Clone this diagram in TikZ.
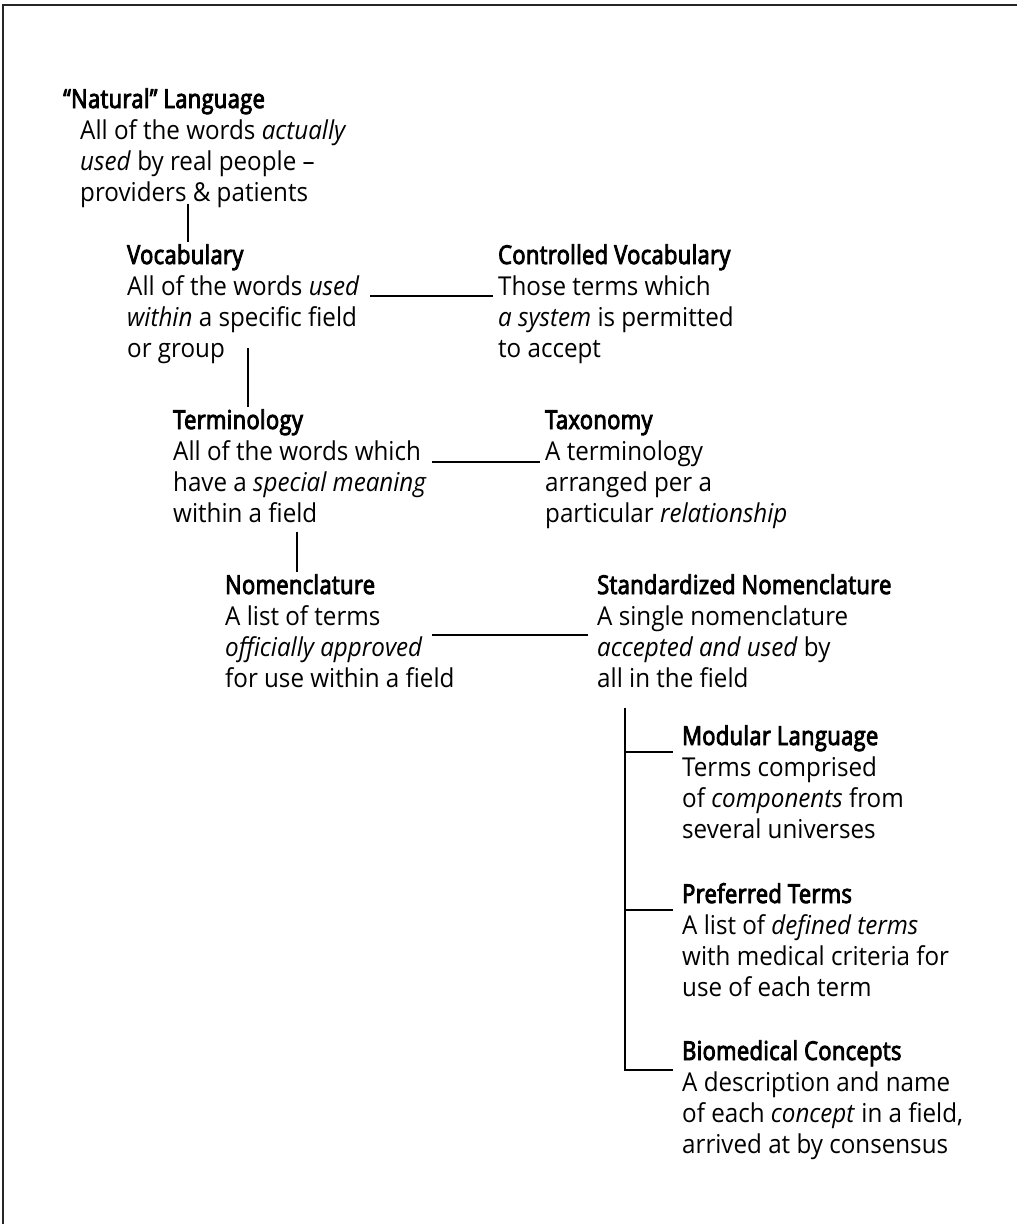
\documentclass[tikz,border=0pt]{standalone}
\usepackage{fontspec}
\setmainfont{Open Sans}[FakeStretch=0.93]
\newfontfamily\headfont{Open Sans}[FakeStretch=0.84, FakeBold=3.5, LetterSpace=1.5]
\usetikzlibrary{calc}
\newcommand{\entry}[2]{\begin{tabular}[t]{@{}l@{}}{\headfont #1}\\#2\end{tabular}}
\begin{document}
\begin{tikzpicture}[x=1pt,y=-1pt,
  item/.style={anchor=base west, inner sep=0pt, font=\fontsize{26}{31}\selectfont},
  link/.style={draw=black, line width=1.2pt},
  frame/.style={draw=black!85, line width=2pt}]
\useasboundingbox (0,0) rectangle (1017,1224);
% open frame: top and left edges only
\draw[frame] (3,1224) -- (3,5) -- (1017,5);

\node[item] (nat) at (63,108) {\entry{“Natural” Language}{%
  \hspace*{17pt}All of the words \emph{actually}\\
  \hspace*{17pt}\emph{used} by real people –\\
  \hspace*{17pt}providers \& patients}};
\node[item] (voc) at (127,264) {\entry{Vocabulary}{All of the words \emph{used}\\\emph{within} a specific field\\or group}};
\node[item] (ctl) at (498,264) {\entry{Controlled Vocabulary}{Those terms which\\\emph{a system} is permitted\\to accept}};
\node[item] (ter) at (173,429) {\entry{Terminology}{All of the words which\\have a \emph{special meaning}\\within a field}};
\node[item] (tax) at (545,429) {\entry{Taxonomy}{A terminology\\arranged per a\\particular \emph{relationship}}};
\node[item] (nom) at (225,594) {\entry{Nomenclature}{A list of terms\\\emph{officially approved}\\for use within a field}};
\node[item] (std) at (597,594) {\entry{Standardized Nomenclature}{A single nomenclature\\\emph{accepted and used} by\\all in the field}};
\node[item] (mod) at (682,745) {\entry{Modular Language}{Terms comprised\\of \emph{components} from\\several universes}};
\node[item] (pre) at (682,903) {\entry{Preferred Terms}{A list of \emph{defined terms}\\with medical criteria for\\use of each term}};
\node[item] (bio) at (682,1060) {\entry{Biomedical Concepts}{A description and name\\of each \emph{concept} in a field,\\arrived at by consensus}};

% hierarchy down the left side
\draw[link] ([xshift=61pt,yshift=7pt]voc.north west |- nat.south) -- ([xshift=61pt]voc.north west);
\draw[link] ([xshift=75pt]ter.north west) -- ++(0,-59);
\draw[link] ([xshift=72pt]nom.north west |- ter.south) -- ([xshift=72pt]nom.north west);

% sideways links
\draw[link] ([xshift=-5pt]ctl.base west) ++(0,32) -- ++(-123,0);
\draw[link] ([xshift=-5pt]tax.base west) ++(0,33) -- ++(-108,0);
\draw[link] ([xshift=-9pt]std.base west) ++(0,41) -- ++(-156,0);

% bracket under the standardized nomenclature
\coordinate (bk) at ([xshift=28pt]std.south west);
\draw[link] ($(bk)+(0,11)$) -- ($(bio.base west -| bk)+(0,10)$) -- ($(bio.base west)+(-9,10)$);
\draw[link] ($(mod.base west -| bk)+(0,7)$) -- ($(mod.base west)+(-9,7)$);
\draw[link] ($(pre.base west -| bk)+(0,7)$) -- ($(pre.base west)+(-9,7)$);
\end{tikzpicture}
\end{document}
